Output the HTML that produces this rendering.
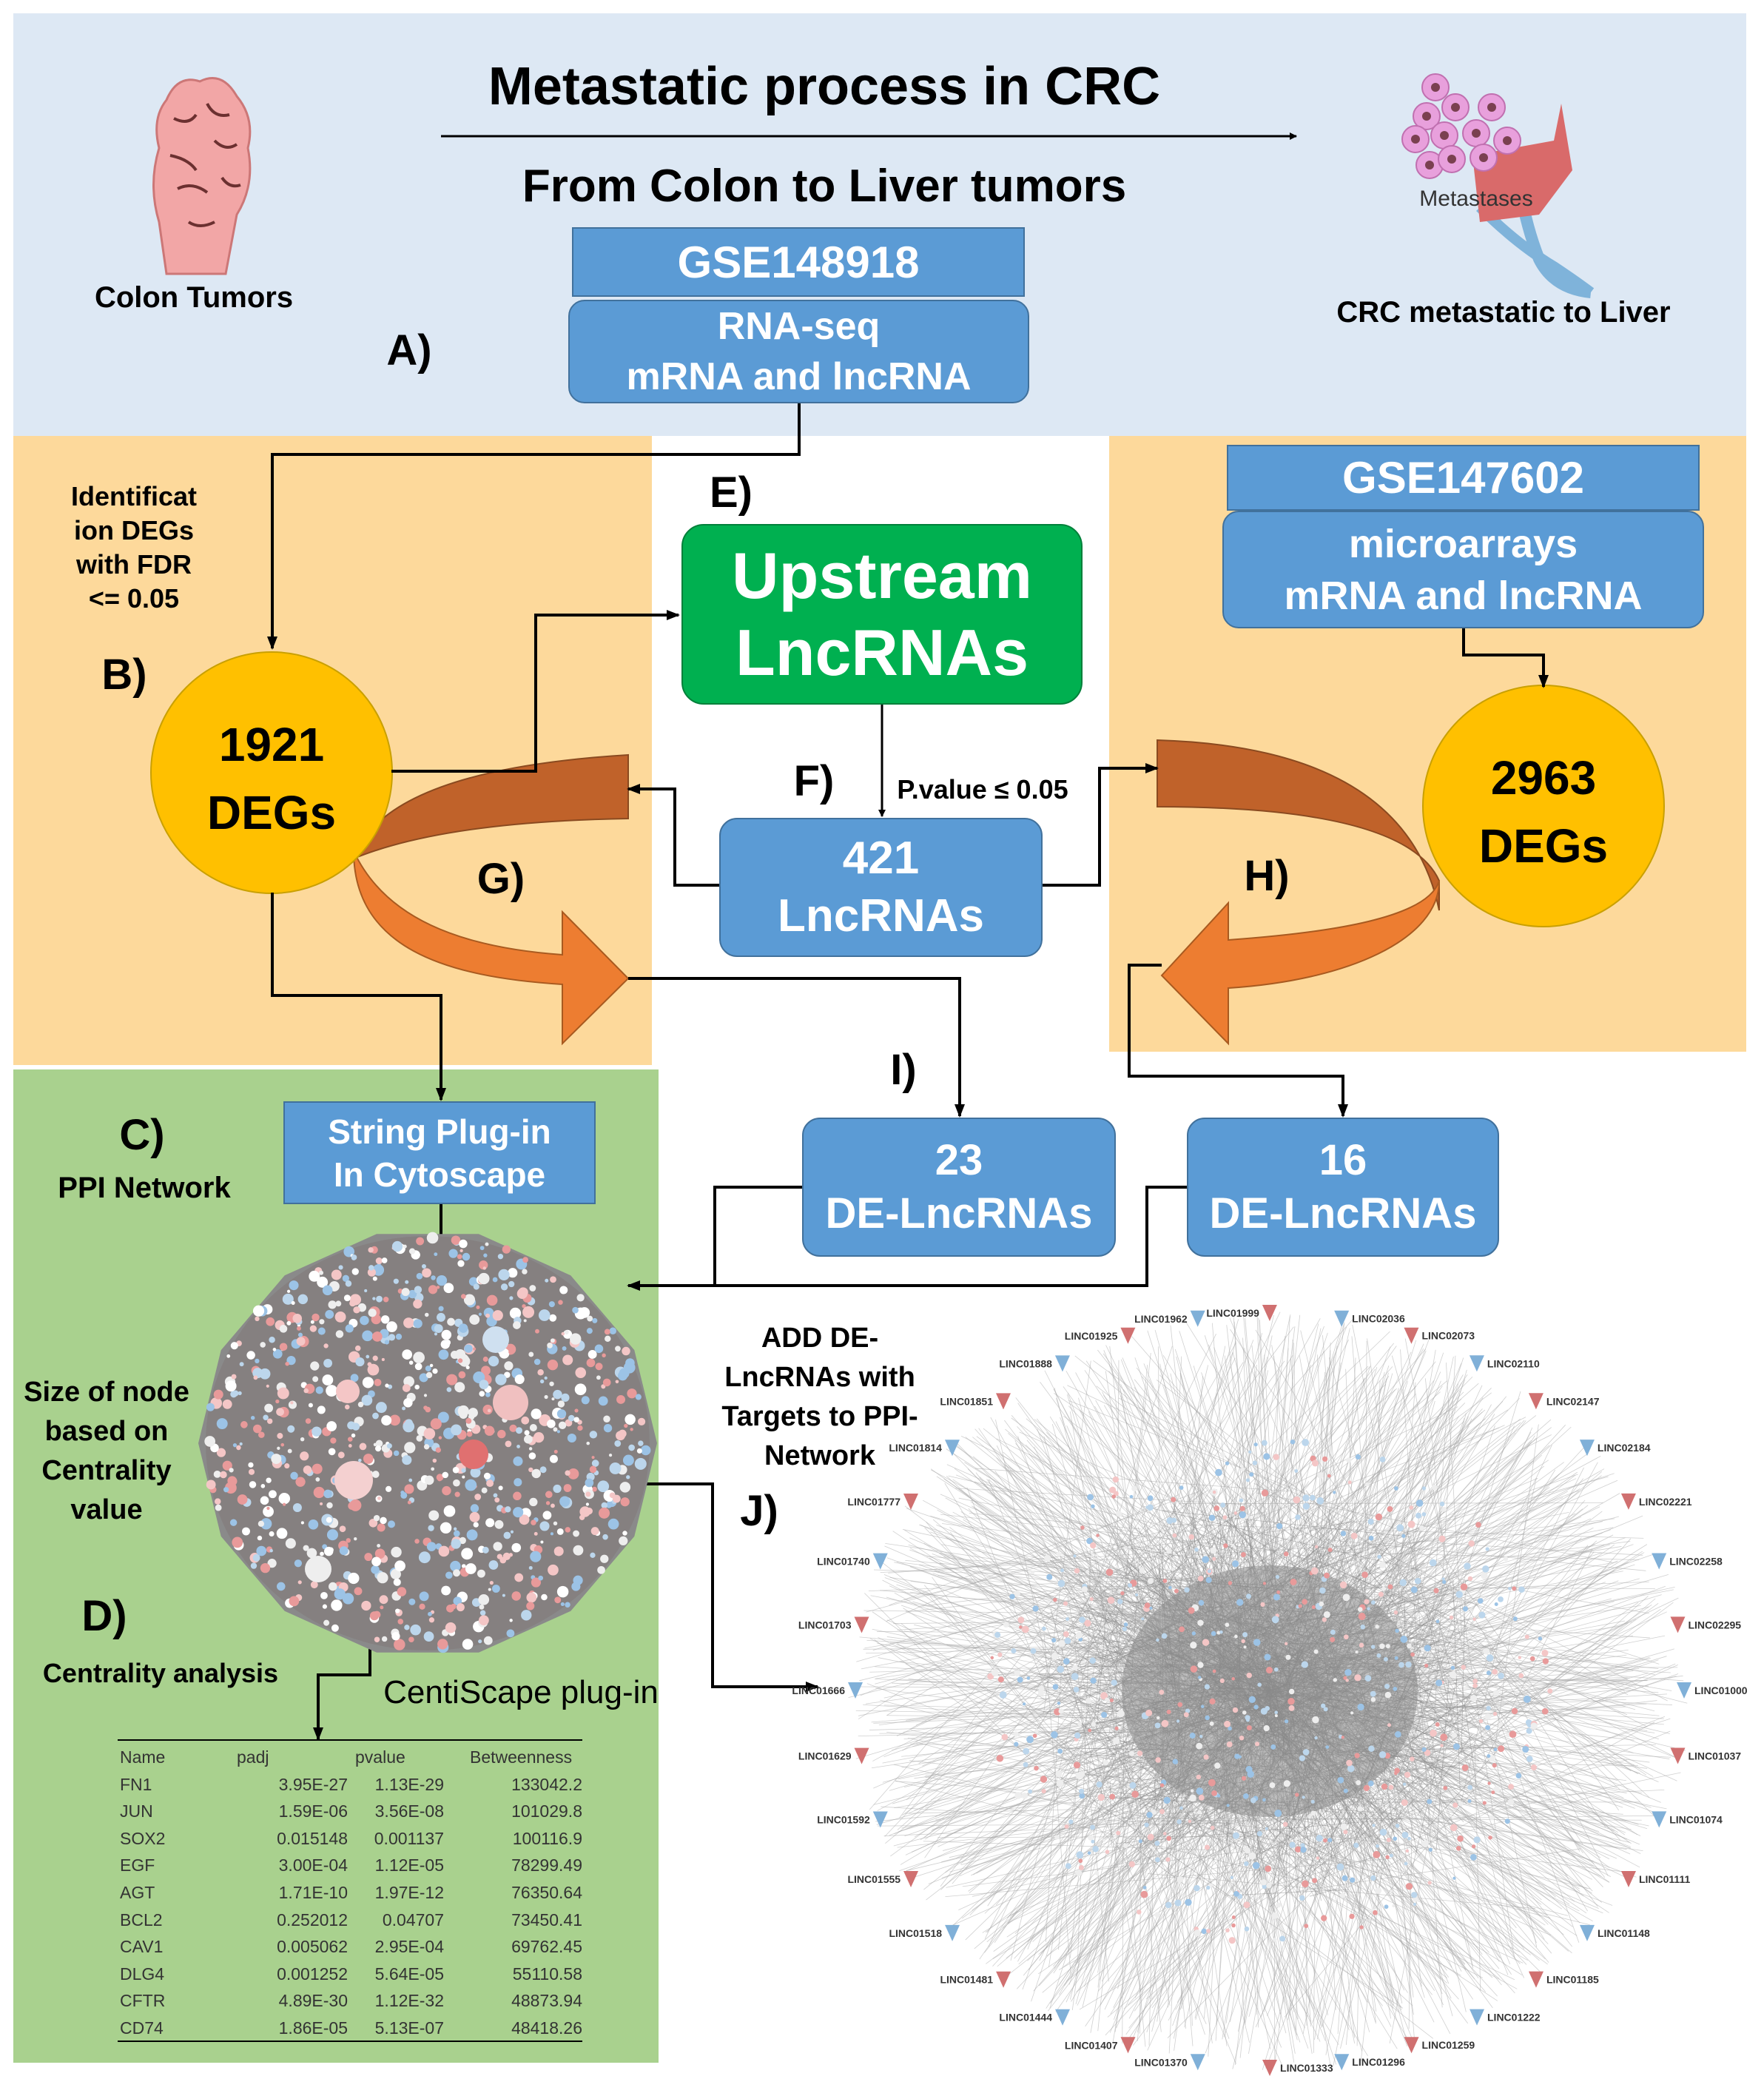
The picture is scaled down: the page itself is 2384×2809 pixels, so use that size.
<!DOCTYPE html>
<html><head><meta charset="utf-8">
<style>
html,body{margin:0;padding:0;background:#fff}
#c{position:relative;width:2384px;height:2809px;overflow:hidden;font-family:"Liberation Sans",sans-serif;font-weight:bold;color:#000}
.t{position:absolute;white-space:nowrap;text-align:center;transform:translateX(-50%)}
.box{position:absolute;background:#5b9bd5;color:#fff;display:flex;align-items:center;justify-content:center;text-align:center;border:2px solid #41719c;box-sizing:border-box}
svg{position:absolute;left:0;top:0}
</style></head><body>
<div id="c">
<div style="position:absolute;left:18px;top:18px;width:2342px;height:571px;background:#dde8f4"></div>
<div style="position:absolute;left:18px;top:589px;width:863px;height:850px;background:#fdd99b"></div>
<div style="position:absolute;left:1499px;top:589px;width:861px;height:832px;background:#fdd99b"></div>
<div style="position:absolute;left:18px;top:1445px;width:872px;height:1342px;background:#a9d18e"></div>

<svg width="2384" height="2809" viewBox="0 0 2384 2809" id="g">
<defs><marker id="a" markerWidth="10" markerHeight="10" refX="9" refY="5" orient="auto" markerUnits="userSpaceOnUse"><path d="M0,0 L10,5 L0,10 z" fill="#000"/></marker>
<marker id="b" markerWidth="18" markerHeight="14" refX="16" refY="7" orient="auto" markerUnits="userSpaceOnUse"><path d="M0,0 L18,7 L0,14 z" fill="#000"/></marker></defs>
<g>
<path d="M225,370 L215,300 Q200,250 215,200 Q205,160 225,135 Q240,100 270,110 Q300,95 320,130 Q345,160 335,200 Q345,250 320,290 L305,370 Z" fill="#f2a6a6" stroke="#c77" stroke-width="3"/>
<path d="M235,160 q20,10 30,-5 M280,140 q10,20 30,15 M230,210 q25,5 35,20 M290,190 q15,15 30,5 M240,255 q20,-10 40,5 M300,240 q10,15 25,10 M255,300 q15,10 35,0" stroke="#6b3030" stroke-width="4" fill="none"/>
</g>
<g>
<path d="M2000,280 Q2050,330 2100,360 Q2130,380 2150,395" stroke="#7fb3da" stroke-width="14" fill="none"/>
<path d="M2050,230 Q2060,300 2080,350 Q2100,390 2150,395" stroke="#7fb3da" stroke-width="16" fill="none"/>
<path d="M1990,210 L2100,190 L2110,140 L2125,230 L2080,290 L2000,300 Z" fill="#d96a6a"/>
<g fill="#e8a0dc" stroke="#c070b0" stroke-width="2">
<circle cx="1940" cy="118" r="18"/><circle cx="1967" cy="145" r="18"/><circle cx="2016" cy="145" r="18"/><circle cx="1928" cy="157" r="18"/><circle cx="1913" cy="188" r="18"/><circle cx="1952" cy="183" r="18"/><circle cx="1995" cy="180" r="18"/><circle cx="2037" cy="190" r="18"/><circle cx="1932" cy="223" r="18"/><circle cx="1962" cy="215" r="18"/><circle cx="2005" cy="213" r="18"/></g>
<g fill="#7a4050"><circle cx="1940" cy="118" r="6"/><circle cx="1967" cy="145" r="6"/><circle cx="2016" cy="145" r="6"/><circle cx="1928" cy="157" r="6"/><circle cx="1913" cy="188" r="6"/><circle cx="1952" cy="183" r="6"/><circle cx="1995" cy="180" r="6"/><circle cx="2037" cy="190" r="6"/><circle cx="1932" cy="223" r="6"/><circle cx="1962" cy="215" r="6"/><circle cx="2005" cy="213" r="6"/></g>
</g>
<line x1="596" y1="184" x2="1752" y2="184" stroke="#000" stroke-width="3" marker-end="url(#a)"/>

<path d="M478,1160 Q520,1040 849,1020 L849,1106 Q600,1110 478,1160 Z" fill="#c0622a" stroke="#8a4a20" stroke-width="2"/>
<path d="M478,1150 C478,1280 600,1320 760,1330 L760,1410 L849,1322 L760,1232 L760,1290 C620,1280 520,1240 478,1150 Z" fill="#ed7d31" stroke="#a85a20" stroke-width="2"/>
<path d="M1564,1000 Q1900,1010 1945,1230 L1945,1190 Q1900,1090 1564,1090 Z" fill="#c0622a" stroke="#8a4a20" stroke-width="2"/>
<path d="M1945,1190 C1945,1270 1820,1325 1660,1335 L1660,1410 L1570,1318 L1660,1220 L1660,1270 C1800,1260 1930,1240 1945,1190 Z" fill="#ed7d31" stroke="#a85a20" stroke-width="2"/>

<circle cx="367" cy="1044" r="163" fill="#ffc000" stroke="#c9a000" stroke-width="2"/>
<circle cx="2086" cy="1089" r="163" fill="#ffc000" stroke="#c9a000" stroke-width="2"/>

<g stroke="#000" stroke-width="4" fill="none">
<polyline points="1080,545 1080,614 368,614 368,876" marker-end="url(#b)"/>
<polyline points="529,1042 724,1042 724,831 917,831" marker-end="url(#b)"/>
<polyline points="1192,952 1192,1103" stroke-width="3" marker-end="url(#a)"/>
<polyline points="972,1196 912,1196 912,1066 849,1066" marker-end="url(#b)"/>
<polyline points="1409,1196 1486,1196 1486,1038 1564,1038" marker-end="url(#b)"/>
<polyline points="1978,849 1978,885 2086,885 2086,928" marker-end="url(#b)"/>
<polyline points="368,1206 368,1345 596,1345 596,1486" marker-end="url(#b)"/>
<polyline points="849,1322 1297,1322 1297,1508" marker-end="url(#b)"/>
<polyline points="1570,1304 1526,1304 1526,1454 1815,1454 1815,1508" marker-end="url(#b)"/>
<polyline points="1084,1604 966,1604 966,1737"/>
<polyline points="1604,1604 1550,1604 1550,1737 849,1737" marker-end="url(#b)"/>
<polyline points="596,1627 596,1676 515,1676 515,1725" marker-end="url(#b)"/>
<polyline points="822,2005 963,2005 963,2279 1105,2279" marker-end="url(#b)"/>
<polyline points="500,2194 500,2263 430,2263 430,2350" marker-end="url(#b)"/>
</g>
<g id="net1"></g>
<g id="net2"></g>
<line x1="159" y1="2351" x2="787" y2="2351" stroke="#000" stroke-width="2"/>
<line x1="159" y1="2758" x2="787" y2="2758" stroke="#000" stroke-width="2"/>
</svg>

<div class="t" style="left:1114px;top:76px;font-size:72px">Metastatic process in CRC</div>
<div class="t" style="left:1114px;top:216px;font-size:62px">From Colon to Liver tumors</div>
<div class="t" style="left:262px;top:380px;font-size:40px">Colon Tumors</div>
<div class="t" style="left:2032px;top:400px;font-size:40px">CRC metastatic to Liver</div>
<div class="t" style="left:1995px;top:252px;font-size:30px;font-weight:normal;color:#333">Metastases</div>
<div class="t" style="left:553px;top:440px;font-size:58px">A)</div>

<div class="box" style="left:773px;top:307px;width:612px;height:94px;font-size:60px">GSE148918</div>
<div class="box" style="left:768px;top:405px;width:623px;height:140px;border-radius:22px;font-size:52px;line-height:68px">RNA-seq<br>mRNA and lncRNA</div>

<div class="t" style="left:181px;top:648px;font-size:36px;line-height:46px">Identificat<br>ion DEGs<br>with FDR<br>&lt;= 0.05</div>
<div class="t" style="left:168px;top:878px;font-size:58px">B)</div>
<div class="t" style="left:367px;top:960px;font-size:64px;line-height:92px">1921<br>DEGs</div>
<div class="t" style="left:2086px;top:1005px;font-size:64px;line-height:92px">2963<br>DEGs</div>

<div class="t" style="left:988px;top:632px;font-size:58px">E)</div>
<div class="box" style="left:921px;top:708px;width:542px;height:244px;background:#00b050;border-color:#00803a;border-radius:30px;font-size:88px;line-height:104px">Upstream<br>LncRNAs</div>
<div class="t" style="left:1100px;top:1022px;font-size:58px">F)</div>
<div class="t" style="left:1328px;top:1046px;font-size:36px">P.value ≤ 0.05</div>
<div class="box" style="left:972px;top:1105px;width:437px;height:188px;border-radius:24px;font-size:62px;line-height:78px">421<br>LncRNAs</div>
<div class="t" style="left:677px;top:1154px;font-size:58px">G)</div>
<div class="t" style="left:1712px;top:1150px;font-size:58px">H)</div>

<div class="box" style="left:1658px;top:601px;width:639px;height:89px;font-size:60px">GSE147602</div>
<div class="box" style="left:1652px;top:690px;width:651px;height:159px;border-radius:22px;font-size:54px;line-height:70px">microarrays<br>mRNA and lncRNA</div>

<div class="t" style="left:1221px;top:1412px;font-size:58px">I)</div>
<div class="t" style="left:192px;top:1500px;font-size:58px">C)</div>
<div class="t" style="left:195px;top:1583px;font-size:40px">PPI Network</div>
<div class="box" style="left:383px;top:1488px;width:422px;height:139px;font-size:46px;line-height:58px;border-radius:0">String Plug-in<br>In Cytoscape</div>
<div class="box" style="left:1084px;top:1510px;width:424px;height:188px;border-radius:24px;font-size:58px;line-height:72px">23<br>DE-LncRNAs</div>
<div class="box" style="left:1604px;top:1510px;width:422px;height:188px;border-radius:24px;font-size:58px;line-height:72px">16<br>DE-LncRNAs</div>

<div class="t" style="left:144px;top:1855px;font-size:38px;line-height:53px">Size of node<br>based on<br>Centrality<br>value</div>
<div class="t" style="left:141px;top:2150px;font-size:58px">D)</div>
<div class="t" style="left:217px;top:2240px;font-size:36px">Centrality analysis</div>
<div class="t" style="left:704px;top:2262px;font-size:44px;font-weight:normal">CentiScape plug-in</div>
<div class="t" style="left:1108px;top:1782px;font-size:38px;line-height:53px">ADD DE-<br>LncRNAs with<br>Targets to PPI-<br>Network</div>
<div class="t" style="left:1026px;top:2008px;font-size:58px">J)</div>

<div id="tbl" style="position:absolute;left:162px;top:2356px;font-size:23px;font-weight:normal;color:#333;line-height:36.6px">
</div>
</div>
<script>
var rows=[["Name","padj","pvalue","Betweenness"],["FN1","3.95E-27","1.13E-29","133042.2"],["JUN","1.59E-06","3.56E-08","101029.8"],["SOX2","0.015148","0.001137","100116.9"],["EGF","3.00E-04","1.12E-05","78299.49"],["AGT","1.71E-10","1.97E-12","76350.64"],["BCL2","0.252012","0.04707","73450.41"],["CAV1","0.005062","2.95E-04","69762.45"],["DLG4","0.001252","5.64E-05","55110.58"],["CFTR","4.89E-30","1.12E-32","48873.94"],["CD74","1.86E-05","5.13E-07","48418.26"]];
var h="";rows.forEach(function(r,i){h+='<div style="position:relative;height:36.6px">'+'<span style="position:absolute;left:0">'+r[0]+'</span>'+(i==0?'<span style="position:absolute;left:158px">padj</span><span style="position:absolute;left:318px">pvalue</span><span style="position:absolute;left:473px">Betweenness</span>':'<span style="position:absolute;left:180px;width:128px;text-align:right">'+r[1]+'</span><span style="position:absolute;left:320px;width:118px;text-align:right">'+r[2]+'</span><span style="position:absolute;left:480px;width:145px;text-align:right">'+r[3]+'</span>')+'</div>';});
document.getElementById('tbl').innerHTML=h;
var s=7;function R(){s=(s*16807)%2147483647;return s/2147483647;}
var ns="http://www.w3.org/2000/svg";
function el(p,t,a){var e=document.createElementNS(ns,t);for(var k in a)e.setAttribute(k,a[k]);p.appendChild(e);return e;}
var g1=document.getElementById('net1');
var pts=[];for(var i=0;i<14;i++){var a=i/14*6.283;pts.push((578+310*Math.cos(a))+","+(1950+290*Math.sin(a)));}
el(g1,'polygon',{points:pts.join(" "),fill:"#8a8a8a"});
el(g1,'ellipse',{cx:578,cy:1950,rx:300,ry:280,fill:"#858080"});
var cols=["#f4c6c6","#bcd6ec","#eee","#e89a9a","#9cc3e6","#fff"];
for(var i=0;i<900;i++){var a=R()*6.283,r=Math.sqrt(R())*300;var x=578+r*Math.cos(a),y=1950+r*0.94*Math.sin(a);el(g1,'circle',{cx:x,cy:y,r:2+R()*6,fill:cols[Math.floor(R()*6)]});}
[[478,2000,26,"#f4d0d0"],[690,1895,24,"#f0c0c0"],[640,1965,20,"#e07070"],[670,1810,18,"#cfe0f0"],[430,2120,18,"#eee"],[470,1880,16,"#f4c6c6"]].forEach(function(c){el(g1,'circle',{cx:c[0],cy:c[1],r:c[2],fill:c[3]});});
var g2=document.getElementById('net2');
var cx=1716,cy=2285;
for(var i=0;i<1300;i++){var a1=R()*6.283,a2=R()*6.283,r1=480+R()*90,r2=R()*320;el(g2,'line',{x1:cx+r1*Math.cos(a1),y1:cy+r1*0.9*Math.sin(a1),x2:cx+r2*Math.cos(a2),y2:cy+r2*0.9*Math.sin(a2),stroke:"#aaa","stroke-width":0.8,"stroke-opacity":0.55});}
for(var i=0;i<700;i++){var a1=R()*6.283,a2=R()*6.283,r1=R()*330,r2=R()*330;el(g2,'line',{x1:cx+r1*Math.cos(a1),y1:cy+r1*0.9*Math.sin(a1),x2:cx+r2*Math.cos(a2),y2:cy+r2*0.9*Math.sin(a2),stroke:"#888","stroke-width":0.8,"stroke-opacity":0.5});}
el(g2,'ellipse',{cx:cx,cy:cy,rx:200,ry:170,fill:"#8a8a8a","fill-opacity":0.55});
for(var i=0;i<700;i++){var a=R()*6.283,r=Math.sqrt(R())*380;el(g2,'circle',{cx:cx+r*Math.cos(a),cy:cy+r*0.9*Math.sin(a),r:2+R()*3,fill:cols[Math.floor(R()*5)]});}
for(var i=0;i<36;i++){var a=i/36*6.283;var x=cx+560*Math.cos(a),y=cy+510*Math.sin(a);el(g2,'path',{d:"M"+(x-10)+","+(y-12)+" L"+x+","+(y+10)+" L"+(x+10)+","+(y-12)+" Z",fill:i%2?"#d07070":"#80b0d8"});var t=el(g2,'text',{x:x+(Math.cos(a)>0?14:-14),y:y+4,"font-size":14,"font-family":"Liberation Sans",fill:"#333","text-anchor":Math.cos(a)>0?"start":"end"});t.textContent="LINC0"+(1000+i*37);}
</script>
</body></html>
